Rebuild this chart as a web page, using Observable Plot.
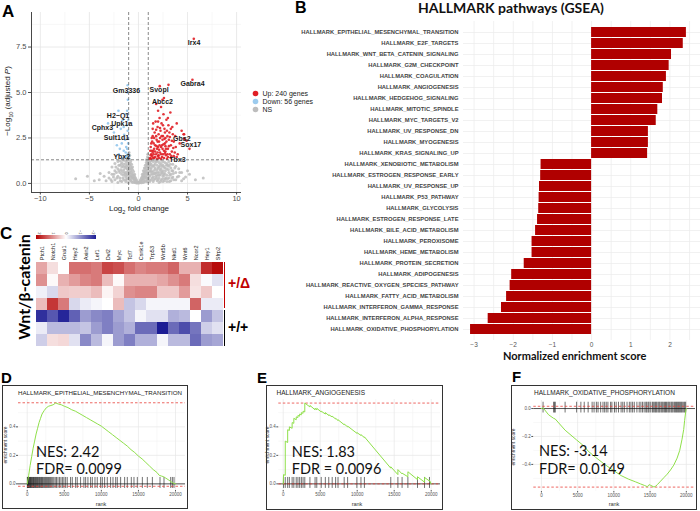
<!DOCTYPE html>
<html><head><meta charset="utf-8">
<script src="https://cdn.jsdelivr.net/npm/d3@7"></script>
<script src="https://cdn.jsdelivr.net/npm/@observablehq/plot@0.6"></script>
<style>
html,body{margin:0;padding:0;background:#fff;}
#root{position:relative;width:700px;height:511px;overflow:hidden;background:#fff;font-family:"Liberation Sans",Arial,sans-serif;}
#root svg{position:absolute;overflow:visible;}
.t{position:absolute;white-space:nowrap;line-height:1;}
</style></head><body><div id="root"></div>
<script>
// ---------------- DATA ----------------
// Panel A: volcano plot (log2 fold change, -log10 adjusted P)
const upGenes = [[1.2,1.4],[1.3,1.6],[1.4,1.5],[1.5,1.8],[1.6,1.4],[1.7,2.1],[1.8,1.6],[1.9,1.9],[2.0,1.5],[2.1,2.3],[2.2,1.7],[2.3,2.0],[2.4,1.45],[2.5,2.6],[2.6,1.8],[2.7,2.2],[2.8,1.55],[2.9,2.9],[3.0,1.9],[3.1,2.4],[3.2,1.6],[3.3,2.1],[3.4,1.75],[3.5,2.7],[3.6,1.5],[3.8,2.0],[4.0,1.6],[4.2,2.2],[4.4,2.9],[4.6,2.7],[4.7,2.45],[4.9,2.35],[5.2,1.9],[1.25,2.0],[1.35,2.5],[1.45,3.0],[1.55,2.2],[1.65,2.8],[1.75,3.4],[1.85,2.4],[1.95,3.1],[2.05,2.7],[2.15,3.6],[2.25,2.9],[2.35,3.3],[2.45,2.4],[2.55,3.8],[2.65,3.0],[2.75,2.5],[2.85,3.5],[2.95,2.6],[3.05,3.2],[3.15,2.8],[3.25,3.9],[3.45,3.1],[3.6,2.3],[3.75,2.6],[3.9,3.3],[1.15,1.35],[1.3,1.35],[1.5,1.4],[1.7,1.45],[1.9,1.35],[2.1,1.4],[2.3,1.35],[2.6,1.4],[2.9,1.35],[3.3,1.4],[1.6,1.9],[1.8,2.6],[2.0,2.0],[2.4,2.1],[2.2,2.5],[2.8,1.9],[1.4,2.3],[2.0,4.0],[2.3,4.2],[1.8,4.37],[2.45,4.6],[2.6,4.7],[2.17,5.35],[3.06,5.42],[5.64,7.95],[5.5,5.7],[4.65,2.7],[4.65,2.45],[3.0,1.45],[1.95,1.7],[2.7,1.65],[3.9,1.45],[1.35,1.8],[1.55,1.6],[2.05,1.55],[2.5,1.6],[1.25,1.55],[1.45,2.6],[2.75,1.75],[1.2,1.8],[1.3,2.2],[1.45,1.7],[1.6,2.5],[1.7,1.75],[1.85,2.05],[1.95,2.3],[2.1,1.85],[2.15,2.1],[2.3,1.6],[2.35,2.6],[2.45,1.9],[2.55,2.15],[2.65,2.45],[2.75,2.05],[2.85,2.3],[2.95,1.6],[3.1,2.05],[3.2,2.55],[3.35,1.5],[3.4,2.35],[3.55,1.95],[3.7,1.7],[1.5,3.3],[2.0,3.4],[2.5,3.2],[3.0,3.6],[1.8,2.95],[2.2,3.05],[2.7,2.8],[3.3,3.0]];
const downGenes = [[-1.05,1.4],[-1.1,1.6],[-1.15,1.9],[-1.05,2.2],[-1.2,1.5],[-1.3,1.7],[-1.1,2.5],[-1.25,2.0],[-1.4,1.45],[-1.5,1.8],[-1.1,2.9],[-1.2,3.2],[-1.05,3.5],[-1.15,4.0],[-1.08,4.6],[-1.12,5.0],[-1.1,5.4],[-1.35,2.4],[-1.46,2.67],[-1.63,3.47],[-2.04,4.0],[-3.1,3.3],[-1.7,2.2],[-2.0,1.6],[-1.6,1.4],[-1.1,1.45],[-1.8,3.0],[-2.2,2.1],[-1.3,3.8],[-1.9,1.9],[-1.5,3.1],[-2.5,2.8]];
const nsGenes = [[-6.4,0.25],[-5.2,0.4],[-4.5,0.15],[-3.9,0.55],[-3.3,0.15],[-3.0,0.3],[-3.0,0.6],[-2.7,0.1],[-2.7,0.5],[-2.7,0.9],[-2.4,0.2],[-2.4,0.7],[-2.4,1.1],[-2.1,0.05],[-2.1,0.4],[-2.1,0.8],[-2.1,1.2],[-1.9,0.3],[-1.9,0.6],[-1.9,1.0],[-1.9,1.25],[-1.7,0.1],[-1.7,0.5],[-1.7,0.9],[-1.7,1.15],[-1.5,0.2],[-1.5,0.45],[-1.5,0.75],[-1.5,1.05],[-1.5,1.28],[-1.3,0.1],[-1.3,0.35],[-1.3,0.6],[-1.3,0.85],[-1.3,1.1],[-1.3,1.25],[-1.15,0.25],[-1.15,0.5],[-1.15,0.8],[-1.15,1.0],[-1.15,1.2],[-1.0,0.3],[-1.0,0.6],[-1.0,0.9],[-1.0,1.1],[-0.98,1.35],[-0.97,1.5],[-0.96,1.7],[-0.9,0.2],[-0.9,0.5],[-0.9,0.8],[-0.9,1.0],[-0.9,1.3],[-0.9,1.55],[-0.8,0.15],[-0.8,0.4],[-0.8,0.7],[-0.8,0.95],[-0.8,1.2],[-0.7,0.1],[-0.7,0.35],[-0.7,0.6],[-0.7,0.85],[-0.7,1.05],[-0.6,0.05],[-0.6,0.3],[-0.6,0.5],[-0.6,0.75],[-0.6,0.9],[-0.5,0.1],[-0.5,0.25],[-0.5,0.45],[-0.5,0.65],[-0.4,0.05],[-0.4,0.2],[-0.4,0.4],[-0.4,0.5],[-0.3,0.05],[-0.3,0.15],[-0.3,0.3],[-0.2,0.02],[-0.2,0.1],[-0.2,0.2],[-0.1,0.03],[-0.1,0.08],[0,0.02],[0,0.05],[0.1,0.03],[0.1,0.09],[0.2,0.05],[0.2,0.12],[0.2,0.2],[0.3,0.04],[0.3,0.15],[0.3,0.3],[0.4,0.08],[0.4,0.22],[0.4,0.4],[0.4,0.5],[0.5,0.05],[0.5,0.2],[0.5,0.35],[0.5,0.55],[0.5,0.7],[0.6,0.1],[0.6,0.3],[0.6,0.5],[0.6,0.7],[0.6,0.85],[0.7,0.15],[0.7,0.4],[0.7,0.6],[0.7,0.85],[0.7,1.0],[0.8,0.1],[0.8,0.35],[0.8,0.65],[0.8,0.9],[0.8,1.15],[0.8,1.3],[0.9,0.2],[0.9,0.5],[0.9,0.75],[0.9,1.0],[0.9,1.2],[0.92,1.45],[0.95,1.6],[1.0,0.3],[1.0,0.6],[1.0,0.9],[1.0,1.1],[1.0,1.25],[1.15,0.1],[1.15,0.4],[1.15,0.7],[1.15,1.0],[1.15,1.2],[1.3,0.2],[1.3,0.5],[1.3,0.8],[1.3,1.05],[1.3,1.25],[1.5,0.1],[1.5,0.35],[1.5,0.65],[1.5,0.95],[1.5,1.2],[1.7,0.25],[1.7,0.55],[1.7,0.85],[1.7,1.1],[1.7,1.28],[1.9,0.15],[1.9,0.45],[1.9,0.75],[1.9,1.0],[1.9,1.22],[2.1,0.05],[2.1,0.3],[2.1,0.6],[2.1,0.9],[2.1,1.15],[2.3,0.2],[2.3,0.5],[2.3,0.8],[2.3,1.1],[2.3,1.27],[2.5,0.1],[2.5,0.4],[2.5,0.7],[2.5,1.0],[2.5,1.2],[2.7,0.25],[2.7,0.55],[2.7,0.85],[2.7,1.15],[2.9,0.1],[2.9,0.45],[2.9,0.8],[2.9,1.1],[3.1,0.3],[3.1,0.6],[3.1,0.95],[3.1,1.2],[3.3,0.15],[3.3,0.5],[3.3,0.85],[3.5,0.35],[3.5,0.7],[3.5,1.05],[3.8,0.2],[3.8,0.6],[3.8,0.95],[4.1,0.4],[4.1,0.8],[4.4,0.15],[4.4,0.6],[4.8,0.35],[5.2,0.5],[5.8,0.2],[6.6,0.3],[-2.25,0.6],[-1.8,0.75],[-1.6,0.3],[-1.4,0.9],[-1.2,0.45],[-1.05,0.75],[1.05,0.45],[1.2,0.85],[1.4,0.3],[1.6,1.0],[1.8,0.6],[2.0,0.2],[2.2,1.0],[2.4,0.6],[2.6,0.9],[2.8,0.3],[3.0,1.0],[3.2,0.45],[3.4,0.7],[3.6,0.2],[1.25,0.65],[1.45,0.5],[1.65,0.75],[1.85,0.3],[2.05,0.45],[2.2,0.75],[2.45,0.25],[2.6,0.45],[-1.45,0.6],[-1.25,0.95],[-2.0,1.0],[-2.55,0.35],[-2.8,0.2],[-2.5,0.5],[-2.3,0.9],[-2.2,0.3],[-2.0,0.7],[-1.85,0.15],[-1.75,1.05],[-1.65,0.65],[-1.55,0.95],[-1.35,0.5],[-1.25,0.2],[-1.1,0.65],[-1.05,0.05],[-0.95,0.4],[-0.85,0.6],[-0.85,1.1],[-0.75,0.25],[-0.75,0.8],[-0.65,0.45],[-0.55,0.35],[-0.45,0.3],[-0.35,0.25],[-0.25,0.12],[0.25,0.1],[0.35,0.25],[0.45,0.3],[0.55,0.45],[0.65,0.6],[0.75,0.3],[0.75,0.75],[0.85,0.5],[0.85,1.05],[0.95,0.1],[1.05,1.0],[1.1,0.2],[1.2,1.1],[1.35,0.65],[1.4,0.95],[1.55,0.2],[1.6,0.55],[1.75,0.4],[1.8,1.2],[1.95,0.6],[2.0,0.85],[2.15,0.45],[2.25,0.1],[2.35,0.65],[2.4,0.95],[2.55,0.55],[2.65,0.15],[2.75,0.7],[2.85,1.0],[2.95,0.25],[3.05,0.75],[3.15,0.1],[3.25,1.05],[3.4,0.3],[3.55,0.55],[3.7,0.85],[3.95,0.35],[4.2,0.6],[4.6,0.25],[5.0,0.7],[-3.5,0.4],[-4.0,0.2]];
const labelGenes = ["Irx4","Gabra4","Svopl","Gm3336","Abcc2","H2\u2212Q1","Upk1a","Cphx3","Sult1d1","Gbs2","Sox17","Ybx2","Tbx3"];
const labelX = [5.67,5.51,2.1,-1.22,2.45,-2.08,-1.7,-3.67,-2.24,4.42,5.34,-1.7,3.98];
const labelY = [7.71,5.48,5.16,5.11,4.47,3.74,3.28,3.04,2.51,2.45,2.14,1.45,1.3];
const foldCutoffs = [-1, 1];
const padjCutoff = [1.3];
const volcanoXTicks = [-10,-5,0,5,10];
const volcanoYTicks = [0,2.5,5,7.5];
const volcanoXMinor = [-7.5,-2.5,2.5,7.5];
const volcanoYMinor = [1.25,3.75,6.25,8.75];
const volcanoXDomain = [-10.9, 10.5];
const volcanoYDomain = [-0.5, 9.4];
const volcanoLegend = ["Up: 240 genes","Down: 56 genes","NS"];

// Panel B: GSEA hallmark pathways
const pathways = ["HALLMARK_EPITHELIAL_MESENCHYMAL_TRANSITION","HALLMARK_E2F_TARGETS","HALLMARK_WNT_BETA_CATENIN_SIGNALING","HALLMARK_G2M_CHECKPOINT","HALLMARK_COAGULATION","HALLMARK_ANGIOGENESIS","HALLMARK_HEDGEHOG_SIGNALING","HALLMARK_MITOTIC_SPINDLE","HALLMARK_MYC_TARGETS_V2","HALLMARK_UV_RESPONSE_DN","HALLMARK_MYOGENESIS","HALLMARK_KRAS_SIGNALING_UP","HALLMARK_XENOBIOTIC_METABOLISM","HALLMARK_ESTROGEN_RESPONSE_EARLY","HALLMARK_UV_RESPONSE_UP","HALLMARK_P53_PATHWAY","HALLMARK_GLYCOLYSIS","HALLMARK_ESTROGEN_RESPONSE_LATE","HALLMARK_BILE_ACID_METABOLISM","HALLMARK_PEROXISOME","HALLMARK_HEME_METABOLISM","HALLMARK_PROTEIN_SECRETION","HALLMARK_ADIPOGENESIS","HALLMARK_REACTIVE_OXYGEN_SPECIES_PATHWAY","HALLMARK_FATTY_ACID_METABOLISM","HALLMARK_INTERFERON_GAMMA_RESPONSE","HALLMARK_INTERFERON_ALPHA_RESPONSE","HALLMARK_OXIDATIVE_PHOSPHORYLATION"];
const nesValues = [2.42,2.34,2.04,1.98,1.91,1.83,1.81,1.69,1.65,1.45,1.45,1.43,-1.29,-1.30,-1.33,-1.34,-1.35,-1.38,-1.43,-1.52,-1.52,-1.72,-2.04,-2.08,-2.17,-2.30,-2.64,-3.09];
const nesTicks = [-3,-2,-1,0,1,2];
const nesGrid = [-3,-2.5,-2,-1.5,-1,-0.5,0,0.5,1,1.5,2,2.5];
const nesDomain = [-3.27, 2.78];

// Panel C: Wnt/beta-catenin target heatmap (row z-scores)
const wntGenes = ["Ptch1","Notch1","Gnai1","Hey2","Axin2","Lef1","Dvl2","Myc","Tcf7","Csnk1e","Trp53","Wnt5b","Nkd1","Wnt6","Ncor2","Hey1","Sfrp2"];
const sampleRows = ["d1","d2","d3","d4","w1","w2","w3"];
const zScores = [
  [0.8,0.3,0.0,1.3,1.3,1.2,1.7,1.6,1.3,1.1,1.2,1.2,1.4,0.7,0.7,1.9,2.2],
  [1.0,0.05,0.7,0.9,1.1,1.2,0.6,0.05,0.7,0.7,0.7,0.8,1.0,1.2,0.3,-0.05,-0.3],
  [-0.15,-0.4,0.5,0.45,0.45,0.6,0.1,0.4,1.0,1.1,1.1,0.5,0.5,0.9,0.25,0.5,0.0],
  [0.6,1.8,1.2,-0.4,-0.2,-0.1,0.0,0.6,-0.6,-0.4,-0.1,-0.1,-0.1,-0.1,1.4,-0.2,-0.2],
  [-2.1,-1.7,-2.2,-1.6,-1.0,-1.2,-1.3,-0.9,-0.6,-0.1,-0.3,-0.3,-0.8,-0.7,0.0,-1.0,-0.6],
  [-0.2,-0.7,-0.7,-0.7,-0.6,-1.0,-1.3,-1.0,-0.8,-1.5,-1.5,-2.3,-1.5,-1.8,-1.4,-0.5,-0.3],
  [-0.5,0.3,0.35,-0.3,-1.2,-0.7,-0.1,-1.0,-1.3,-0.8,-0.8,-0.1,-0.7,-0.7,-1.5,-1.0,-0.9]
];
const keyTicks = [2,1,0,-1,-2];
const keyExtent = [2.2,-2.2];

// Panels D-F: running enrichment score curves and hit ranks
const rankTicks = [0,5000,10000,15000,20000];
const rankMinor = [2500,7500,12500,17500];
const emtCurve = [[0,0],[200,0.06],[400,0.13],[600,0.19],[800,0.25],[1000,0.3],[1200,0.35],[1400,0.39],[1600,0.43],[1800,0.46],[2000,0.49],[2300,0.515],[2600,0.535],[2900,0.545],[3200,0.55],[3500,0.555],[3850,0.568],[4200,0.56],[4600,0.555],[5000,0.545],[5500,0.535],[6000,0.52],[6500,0.51],[7000,0.495],[7500,0.48],[8000,0.465],[8500,0.45],[9000,0.435],[9500,0.42],[10000,0.405],[10500,0.385],[11000,0.365],[11500,0.345],[12000,0.325],[12500,0.305],[13000,0.285],[13500,0.265],[14000,0.24],[14500,0.22],[15000,0.195],[15500,0.175],[16000,0.15],[16500,0.125],[17000,0.1],[17500,0.08],[17800,0.06],[18100,0.055],[18400,0.05],[18700,0.04],[19000,0.03],[19400,0.015],[19700,0.005],[20000,0]];
const emtHits = [20,60,110,170,240,300,380,450,520,600,680,760,850,930,1020,1100,1190,1280,1370,1460,1560,1650,1760,1860,1950,2050,2160,2280,2390,2500,2620,2750,2880,3000,3150,3300,3450,3600,3780,3950,4150,4350,4550,4750,4950,5180,5400,5850,6080,6530,6750,7200,7650,7880,8190,8550,8780,9140,9450,9900,10130,10440,10800,11250,11570,11930,12150,12600,13140,13500,14040,14400,14850,15530,16200,16880,17910,18450,19350,19580,19800];
const emtLines = [0.569,-0.017];
const angioCurve = [[0,0],[46,0.065],[278,0.06],[280,0.3],[602,0.29],[604,0.38],[833,0.375],[835,0.4],[1204,0.39],[1206,0.43],[1435,0.425],[1437,0.46],[1759,0.45],[1761,0.47],[1991,0.465],[1993,0.48],[2222,0.475],[2224,0.49],[2454,0.485],[2456,0.5],[2685,0.495],[2687,0.51],[2917,0.505],[2919,0.567],[3611,0.54],[3613,0.55],[4306,0.52],[4308,0.53],[4537,0.52],[4539,0.53],[5139,0.505],[5141,0.51],[5694,0.49],[5696,0.5],[6157,0.48],[6159,0.485],[6620,0.47],[6622,0.475],[7083,0.455],[7085,0.46],[7407,0.445],[7409,0.45],[8241,0.415],[8243,0.42],[8704,0.4],[8706,0.405],[9954,0.355],[9956,0.36],[10509,0.34],[10511,0.345],[10972,0.325],[10974,0.33],[14537,0.11],[14539,0.12],[15500,0.065],[15502,0.1],[16065,0.07],[16067,0.075],[16850,0.05],[16852,0.085],[18148,0.03],[18150,0.05],[19100,0.012],[19102,0.045],[19769,0.02],[19771,0.025],[20000,0]];
const angioHits = [46,278,602,833,1204,1435,1759,1991,2222,2454,2685,2917,3611,4306,4537,5139,5694,6157,6620,7083,7407,8241,8704,9954,10509,10972,14537,15500,16065,16850,18148,19100,19769];
const angioLines = [0.567,0];
const oxphosCurve = [[0,0],[227,0.005],[1000,-0.045],[1680,-0.07],[1910,-0.075],[3270,-0.155],[4860,-0.225],[5900,-0.27],[6450,-0.305],[7500,-0.35],[8730,-0.4],[10000,-0.445],[11000,-0.48],[12000,-0.505],[13000,-0.525],[13700,-0.54],[14200,-0.55],[14640,-0.56],[14860,-0.545],[15090,-0.55],[15540,-0.562],[15800,-0.555],[16000,-0.545],[16450,-0.52],[16900,-0.495],[17360,-0.47],[17820,-0.44],[18270,-0.405],[18730,-0.355],[19090,-0.3],[19410,-0.22],[19640,-0.15],[19770,-0.085],[19910,-0.025],[20000,0]];
const oxphosHits = [227,1680,1820,1910,3270,4860,5450,5910,6450,7000,7270,7590,7820,8180,8500,8730,8950,9180,9550,9730,10090,10320,10640,11000,11230,11450,11820,12140,12360,12590,12820,13180,13500,13730,13950,14180,14410,14540,14730,14860,15090,15320,15450,15640,15770,15910,16090,16230,16360,16540,16680,16820,17000,17130,17270,17450,17590,17730,17910,18040,18180,18360,18500,18640,18770,18910,19040,19180,19320,19450,19640,19770,19910];
const oxphosLines = [0.016,-0.5625];

// ---------------- STYLE / HELPERS ----------------
const SANS = '"Liberation Sans", Arial, Helvetica, sans-serif';
const LATO = 'Lato, "Open Sans", sans-serif';
const UP_COLOR = "#e01f26", DOWN_COLOR = "#9ccbee", NS_COLOR = "#bdbdbd";
const root = document.getElementById("root");
function put(node, left, top) { node.style.left = left + "px"; node.style.top = top + "px"; root.appendChild(node); return node; }
function txt(html, css) { const d = document.createElement("div"); d.className = "t"; d.innerHTML = html; d.style.cssText += css; root.appendChild(d); return d; }

// ---------------- PANEL A ----------------
const geneLabelRows = labelGenes.map((g, i) => ({gene: g, x: labelX[i], y: labelY[i]}));
const volcano = Plot.plot({
  width: 245, height: 215, marginLeft: 31, marginRight: 4, marginTop: 12, marginBottom: 23,
  style: {fontFamily: SANS, fontSize: "7.5px", color: "#4d4d4d", background: "none"},
  x: {domain: volcanoXDomain, ticks: volcanoXTicks, tickSize: 2.5, tickPadding: 1, label: null, tickFormat: d3.format("d")},
  y: {domain: volcanoYDomain, ticks: volcanoYTicks, tickSize: 3, tickPadding: 2, label: null, tickFormat: d3.format(".1f")},
  marks: [
    Plot.ruleX(volcanoXMinor, {stroke: "#f1f1f1", strokeWidth: 0.6}),
    Plot.ruleY(volcanoYMinor, {stroke: "#f1f1f1", strokeWidth: 0.6}),
    Plot.ruleX(volcanoXTicks, {stroke: "#e4e4e4", strokeWidth: 0.8}),
    Plot.ruleY(volcanoYTicks, {stroke: "#e4e4e4", strokeWidth: 0.8}),
    Plot.dot(nsGenes, {x: d => d[0], y: d => d[1], r: 1.5, fill: NS_COLOR, fillOpacity: 0.85}),
    Plot.dot(downGenes, {x: d => d[0], y: d => d[1], r: 1.3, fill: DOWN_COLOR}),
    Plot.dot(upGenes, {x: d => d[0], y: d => d[1], r: 1.3, fill: UP_COLOR, fillOpacity: 0.9}),
    Plot.ruleX(foldCutoffs, {stroke: "#555", strokeWidth: 0.7, strokeDasharray: "3,2"}),
    Plot.ruleY(padjCutoff, {stroke: "#555", strokeWidth: 0.7, strokeDasharray: "3,2"}),
    Plot.text(geneLabelRows, {x: "x", y: "y", text: "gene", fontWeight: "bold", fontSize: 7, fill: "#1a1a1a"}),
    Plot.ruleX([volcanoXDomain[0]], {stroke: "#333", strokeWidth: 0.9}),
    Plot.ruleY([volcanoYDomain[0]], {stroke: "#333", strokeWidth: 0.9})
  ]
});
put(volcano, 0, 0);

const volcanoKey = Plot.plot({
  width: 80, height: 26, marginLeft: 7, marginRight: 3, marginTop: 1, marginBottom: 1,
  style: {fontFamily: SANS, fontSize: "7px", color: "#222", background: "none"},
  x: {domain: [0, 1], axis: null},
  y: {domain: volcanoLegend, axis: null},
  color: {domain: volcanoLegend, range: [UP_COLOR, DOWN_COLOR, NS_COLOR]},
  marks: [
    Plot.dot(volcanoLegend, {x: () => 0, y: d => d, r: 2.8, fill: d => d}),
    Plot.text(volcanoLegend, {x: () => 0, y: d => d, text: d => d, dx: 7, textAnchor: "start", fill: "#222"})
  ]
});
put(volcanoKey, 248, 88);

// ---------------- PANEL B ----------------
const gseaRows = pathways.map((p, i) => ({pathway: p, nes: nesValues[i]}));
const gsea = Plot.plot({
  width: 460, height: 349, marginLeft: 223, marginRight: 0, marginTop: 3, marginBottom: 27,
  style: {fontFamily: SANS, fontSize: "5.8px", fontWeight: "bold", color: "#444", background: "none"},
  x: {domain: nesDomain, ticks: nesTicks, tickSize: 0, tickPadding: 2, label: null, tickFormat: d3.format("d")},
  y: {domain: pathways, padding: 0.1, tickSize: 0, tickPadding: 5, label: null},
  marks: [
    Plot.ruleX(nesGrid, {stroke: "#ebebeb", strokeWidth: 0.7}),
    Plot.ruleY(pathways, {stroke: "#ebebeb", strokeWidth: 0.7}),
    Plot.barX(gseaRows, {x: "nes", y: "pathway", fill: "#b00000"})
  ]
});
d3.select(gsea).selectAll('g[aria-label="x-axis tick label"] text, g[aria-label="x-axis"] text')
  .attr("font-size", 6.5).attr("font-weight", "normal").attr("fill", "#555");
put(gsea, 240, 18);

// ---------------- PANEL C ----------------
const heatCells = sampleRows.flatMap((row, i) => wntGenes.map((g, j) => ({row, gene: g, z: zScores[i][j]})));
const heatColors = ["#1c1c94", "#ffffff", "#b40000"];
const heat = Plot.plot({
  width: 200, height: 124, marginLeft: 6, marginRight: 7, marginTop: 35.7, marginBottom: 3.3,
  style: {fontFamily: SANS, fontSize: "5.5px", color: "#222", background: "none"},
  x: {domain: wntGenes, axis: "top", tickRotate: -90, tickSize: 0, tickPadding: 2, label: null, padding: 0},
  y: {domain: sampleRows, axis: null, padding: 0},
  color: {type: "linear", domain: [-2.3, 0, 2.3], range: heatColors, interpolate: "rgb"},
  marks: [Plot.cell(heatCells, {x: "gene", y: "row", fill: "z", inset: 0})]
});
put(heat, 30, 226);

const key = Plot.plot({
  width: 66, height: 14, marginLeft: 2, marginRight: 4, marginTop: 9, marginBottom: 1,
  style: {fontFamily: SANS, fontSize: "4px", color: "#333", background: "none"},
  x: {domain: keyExtent, axis: "top", ticks: keyTicks, tickRotate: 90, tickSize: 0, tickPadding: 1, label: null, tickFormat: d3.format("d")},
  y: {axis: null},
  marks: [Plot.barX([keyExtent], {x1: d => d[0], x2: d => d[1], fill: "url(#hmKeyGrad)"})]
});
const grad = d3.select(key).insert("defs", ":first-child").append("linearGradient").attr("id", "hmKeyGrad");
grad.append("stop").attr("offset", "0%").attr("stop-color", heatColors[2]);
grad.append("stop").attr("offset", "50%").attr("stop-color", heatColors[1]);
grad.append("stop").attr("offset", "100%").attr("stop-color", heatColors[0]);
put(key, 34, 226);

// ---------------- PANELS D-F ----------------
function esPanel({curve, hits, lines, yTicks, yMinor, xDomain, yDomain, width, mL, mR, mT, mB}) {
  return Plot.plot({
    width, height: 125, marginLeft: mL, marginRight: mR, marginTop: mT, marginBottom: mB,
    style: {fontFamily: SANS, fontSize: "4.5px", color: "#555", background: "none"},
    x: {domain: xDomain, ticks: rankTicks, tickSize: 1.5, tickPadding: 1, label: null, tickFormat: d => String(d)},
    y: {domain: yDomain, ticks: yTicks, tickSize: 2, tickPadding: 1, label: null, tickFormat: d3.format(".1f")},
    marks: [
      Plot.ruleX(rankMinor, {stroke: "#f3f3f3", strokeWidth: 0.6}),
      Plot.ruleY(yMinor, {stroke: "#f3f3f3", strokeWidth: 0.6}),
      Plot.ruleX(rankTicks, {stroke: "#e6e6e6", strokeWidth: 0.7}),
      Plot.ruleY(yTicks, {stroke: "#e6e6e6", strokeWidth: 0.7}),
      Plot.ruleX(hits, {y1: -0.032, y2: 0.045, stroke: "#000", strokeWidth: 0.7, strokeOpacity: 0.8}),
      Plot.ruleY([0], {stroke: "#111", strokeWidth: 0.7}),
      Plot.ruleY(lines, {stroke: "#e8403a", strokeWidth: 0.8, strokeDasharray: "2.5,2"}),
      Plot.line(curve, {x: d => d[0], y: d => d[1], stroke: "#8fe04a", strokeWidth: 1})
    ]
  });
}
function box(left, top, w, h, title, titleLeft, fontSize) {
  const b = document.createElement("div");
  b.style.cssText = `position:absolute;left:${left}px;top:${top}px;width:${w}px;height:${h}px;border:1px solid #333;box-sizing:border-box;`;
  const t = document.createElement("div");
  t.className = "t"; t.textContent = title;
  t.style.cssText += `left:${titleLeft}px;top:3.5px;font-size:${fontSize}px;font-family:${SANS};color:#222;`;
  b.appendChild(t); root.appendChild(b);
}
box(2, 385, 186, 124, "HALLMARK_EPITHELIAL_MESENCHYMAL_TRANSITION", 15, 6.2);
box(266, 385, 177, 125, "HALLMARK_ANGIOGENESIS", 9.5, 6.5);
box(511, 385, 186, 125, "HALLMARK_OXIDATIVE_PHOSPHORYLATION", 22, 6.5);

put(esPanel({curve: emtCurve, hits: emtHits, lines: emtLines, yTicks: [0,0.2,0.4], yMinor: [0.1,0.3,0.5],
  xDomain: [-1173, 21348], yDomain: [-0.0465, 0.592], width: 190, mL: 18, mR: 5, mT: 14, mB: 20}), 0, 385);
put(esPanel({curve: angioCurve, hits: angioHits, lines: angioLines, yTicks: [0,0.2,0.4], yMinor: [0.1,0.3,0.5],
  xDomain: [-595, 21257], yDomain: [-0.0465, 0.592], width: 182, mL: 16.3, mR: 4, mT: 14, mB: 20}), 262, 385);
put(esPanel({curve: oxphosCurve, hits: oxphosHits, lines: oxphosLines, yTicks: [0,-0.2,-0.4], yMinor: [-0.1,-0.3,-0.5],
  xDomain: [-1050, 21270], yDomain: [-0.594, 0.0575], width: 192, mL: 26.3, mR: 4, mT: 15, mB: 19}), 507, 385);

// axis titles for D-F
const esLab = `font-size:4.8px;font-family:${SANS};color:#333;transform:translate(-50%,-50%) rotate(-90deg);`;
txt("enrichment score", `left:6px;top:445px;${esLab}`);
txt("enrichment score", `left:268px;top:445px;${esLab}`);
txt("enrichment score", `left:514px;top:447px;${esLab}`);
const rankLab = `font-size:5.5px;font-family:${SANS};color:#333;transform:translateX(-50%);`;
txt("rank", `left:101px;top:502px;${rankLab}`);
txt("rank", `left:357px;top:502px;${rankLab}`);
txt("rank", `left:614px;top:502px;${rankLab}`);

// NES / FDR annotations
const nesCss = `font-family:${LATO};font-size:14.5px;color:#111;`;
txt("NES: 2.42", `left:36px;top:445px;${nesCss}`);
txt("FDR= 0.0099", `left:36px;top:462.3px;${nesCss}`);
txt("NES: 1.83", `left:291.7px;top:445px;${nesCss}`);
txt("FDR = 0.0096", `left:291.7px;top:462.3px;${nesCss}`);
txt("NES: -3.14", `left:539px;top:444px;${nesCss}`);
txt("FDR= 0.0149", `left:539px;top:462.3px;${nesCss}`);

// ---------------- TEXT / ANNOTATIONS ----------------
const letterCss = `font-family:${SANS};font-weight:bold;color:#000;`;
txt("A", `left:2px;top:3px;font-size:17px;${letterCss}`);
txt("B", `left:295px;top:0px;font-size:16px;${letterCss}`);
txt("C", `left:0px;top:225px;font-size:17px;${letterCss}`);
txt("D", `left:1px;top:370px;font-size:15px;${letterCss}`);
txt("E", `left:257px;top:370px;font-size:15px;${letterCss}`);
txt("F", `left:512px;top:369px;font-size:15px;${letterCss}`);

txt("HALLMARK pathways (GSEA)", `left:418px;top:1px;font-size:14px;font-weight:bold;font-family:${LATO};color:#111;`);
txt("Normalized enrichment score", `left:503px;top:350px;font-size:11px;font-weight:bold;font-family:${LATO};color:#111;`);

txt("\u2212Log<sub style='font-size:70%'>10</sub> (adjusted <i>P</i>)", `left:9px;top:101px;font-size:8px;font-family:${SANS};color:#222;transform:translate(-50%,-50%) rotate(-90deg);`);
txt("Log<sub style='font-size:70%'>2</sub> fold change", `left:139px;top:210px;font-size:8px;font-family:${SANS};color:#222;transform:translate(-50%,-50%);`);

txt("Wnt/\u03b2-catenin", `left:24px;top:287px;font-size:16px;font-weight:bold;font-family:${LATO};color:#000;transform:translate(-50%,-50%) rotate(-90deg);`);
txt("", `left:224px;top:262px;width:0;height:46px;border-left:1.5px solid #c00000;`);
txt("", `left:224px;top:310px;width:0;height:36px;border-left:1.5px solid #000;`);
txt("+/\u0394", `left:228px;top:276px;font-size:14px;font-weight:bold;font-family:${SANS};color:#c00000;`);
txt("+/+", `left:228px;top:320px;font-size:14px;font-weight:bold;font-family:${SANS};color:#000;`);
</script>
</body></html>
